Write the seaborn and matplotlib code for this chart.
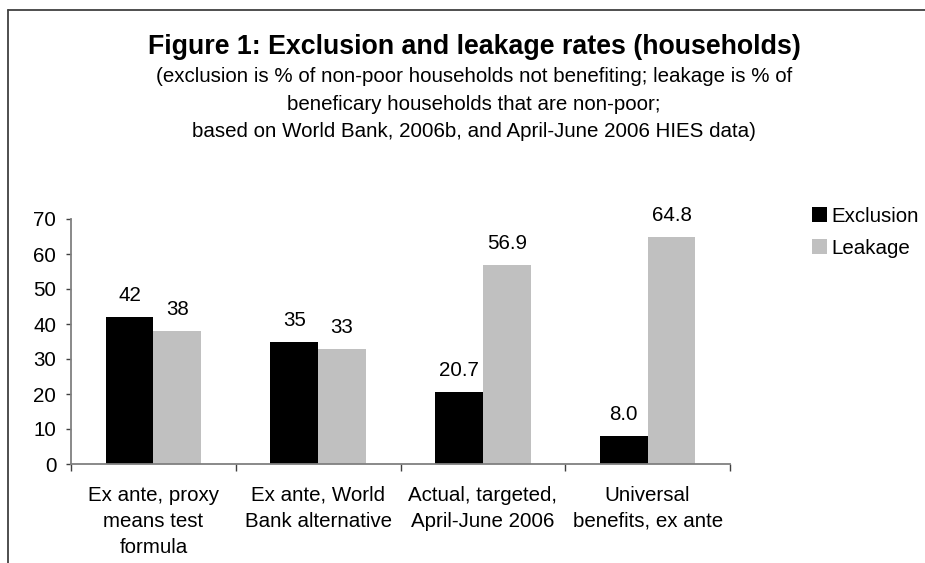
import pandas as pd
import matplotlib.pyplot as plt
import seaborn as sns

# Data
categories = ["Ex ante, proxy\nmeans test\nformula",
              "Ex ante, World\nBank alternative",
              "Actual, targeted,\nApril-June 2006",
              "Universal\nbenefits, ex ante"]
exclusion = [42, 35, 20.7, 8.0]
leakage = [38, 33, 56.9, 64.8]
exclusion_labels = ["42", "35", "20.7", "8.0"]
leakage_labels = ["38", "33", "56.9", "64.8"]

df = pd.DataFrame({
    "category": categories * 2,
    "value": exclusion + leakage,
    "series": ["Exclusion"] * 4 + ["Leakage"] * 4,
})

sns.set_style("white", {"text.color": "black", "xtick.color": "black",
                        "ytick.color": "black", "axes.labelcolor": "black"})
plt.rcParams["font.family"] = ["Liberation Sans", "DejaVu Sans"]
FS = 14.8

fig = plt.figure(figsize=(9.25, 5.63), dpi=100)
ax = fig.add_axes([71 / 925, 1 - 464 / 563, 659 / 925, 245 / 563])

sns.barplot(data=df, x="category", y="value", hue="series",
            palette=["#000000", "#C0C0C0"], width=0.58, saturation=1,
            linewidth=0, ax=ax, legend=True)

# value labels
for container, labels in zip(ax.containers, [exclusion_labels, leakage_labels]):
    ax.bar_label(container, labels=labels, padding=8.5, fontsize=FS, color="black")

ax.set_ylim(0, 70)
ax.set_yticks(range(0, 71, 10))
ax.set_xlim(-0.5, 3.5)
ax.set_xlabel("")
ax.set_ylabel("")
ax.tick_params(axis="y", labelsize=FS, length=3.6, width=1, color="#404040",
               labelcolor="black", pad=7, left=True)
ax.tick_params(axis="x", labelsize=FS, length=0, pad=15.5, labelcolor="black")
for lab in ax.get_xticklabels():
    lab.set_linespacing(1.48)
ax.set_xticks([-0.5, 0.5, 1.5, 2.5, 3.5], minor=True)
ax.tick_params(axis="x", which="minor", length=5, width=1, color="#404040", bottom=True)

for side in ["top", "right"]:
    ax.spines[side].set_visible(False)
for side in ["left", "bottom"]:
    ax.spines[side].set_color("#808080")
    ax.spines[side].set_linewidth(1.3)

leg = ax.legend(loc="upper left", bbox_to_anchor=(812 / 925, 1 - 207 / 563),
                bbox_transform=fig.transFigure, frameon=False, fontsize=FS,
                handlelength=0.72, handleheight=0.72, handletextpad=0.2,
                labelspacing=0.62, borderaxespad=0, borderpad=0)
for t in leg.get_texts():
    t.set_color("black")

fig.text(474 / 925, 1 - 54 / 563, "Figure 1: Exclusion and leakage rates (households)",
         ha="center", va="baseline", fontsize=19.3, fontweight="bold", color="black")
subtitle = ["(exclusion is % of non-poor households not benefiting; leakage is % of",
            "beneficary households that are non-poor;",
            "based on World Bank, 2006b, and April-June 2006 HIES data)"]
baselines = [82, 109.5, 137]
for line, yb in zip(subtitle, baselines):
    fig.text(474 / 925, 1 - yb / 563, line, ha="center", va="baseline",
             fontsize=FS, color="black")

# figure border (top and left visible)
fig.add_artist(plt.Line2D([8 / 925, 8 / 925], [0, 1 - 10 / 563], color="#404040", lw=1.3,
                          transform=fig.transFigure))
fig.add_artist(plt.Line2D([8 / 925, 1], [1 - 10 / 563, 1 - 10 / 563], color="#404040", lw=1.3,
                          transform=fig.transFigure))

fig.savefig("out.png", dpi=100)
